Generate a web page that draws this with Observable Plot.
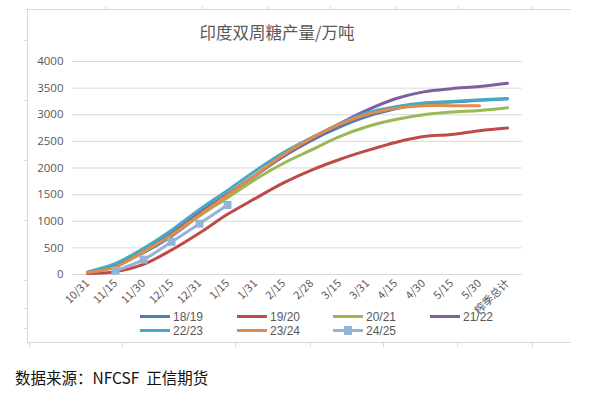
<!DOCTYPE html>
<html>
<head>
<meta charset="utf-8">
<script src="https://cdn.jsdelivr.net/npm/d3@7"></script>
<script src="https://cdn.jsdelivr.net/npm/@observablehq/plot@0.6"></script>
<style>
  html, body { margin: 0; padding: 0; background: #fff; }
  #wrap { position: relative; width: 606px; height: 393px; overflow: hidden; font-family: "Noto Sans CJK SC", "Noto Sans", sans-serif; }
  #chart { position: absolute; left: 0; top: 0; }
  .frame { position: absolute; background: #d9d9d9; }
  #title { position: absolute; left: 0; width: 554px; top: 20px; text-align: center; font-size: 16.5px; color: #595959; line-height: 24px; }
  #legend { position: absolute; left: 140px; top: 310px; font-size: 12px; color: #595959; font-family: "Liberation Sans", Arial, sans-serif; }
  .li { position: absolute; height: 14px; line-height: 14px; white-space: nowrap; }
  .sw { display: inline-block; width: 30px; height: 3px; vertical-align: middle; margin-right: 3px; position: relative; top: -1px; }
  .mk { position: absolute; left: 11px; top: -3px; width: 8px; height: 9px; }
  #caption { position: absolute; left: 15px; top: 366px; font-size: 15.5px; color: #111; line-height: 22px; }
</style>
</head>
<body>
<div id="wrap">
  <div id="chart"></div>
  <div id="title">印度双周糖产量/万吨</div>
  <div id="legend"></div>
  <div id="caption">数据来源：NFCSF&nbsp; 正信期货</div>
</div>
<script>
const categories = ["10/31","11/15","11/30","12/15","12/31","1/15","1/31","2/15","2/28","3/15","3/31","4/15","4/30","5/15","5/30","榨季总计"];
const seriesNames = ["18/19","19/20","20/21","21/22","22/23","23/24","24/25"];
const seriesColors = ["#4a7ebb","#be4b48","#98b954","#7d60a0","#46aac5","#e08d4b","#95b3d7"];

const s1819 = [40, 180, 410, 720, 1110, 1480, 1860, 2220, 2520, 2770, 2970, 3110, 3210, 3240, 3270, 3300];
const s1920 = [20, 50, 190, 460, 780, 1130, 1430, 1720, 1960, 2160, 2330, 2480, 2590, 2630, 2700, 2750];
const s2021 = [40, 150, 430, 740, 1100, 1440, 1790, 2090, 2340, 2590, 2780, 2910, 3000, 3050, 3080, 3130];
const s2122 = [40, 170, 470, 780, 1160, 1510, 1870, 2220, 2530, 2830, 3090, 3300, 3430, 3490, 3530, 3590];
const s2223 = [50, 210, 490, 830, 1220, 1580, 1950, 2290, 2570, 2830, 3040, 3150, 3220, 3250, 3280, 3300];
const s2324 = [40, 140, 430, 740, 1120, 1490, 1870, 2250, 2560, 2820, 3010, 3120, 3170, 3170, 3170, null];
const s2425 = [null, 71, 280, 612, 954, 1306, null, null, null, null, null, null, null, null, null, null];
const yTicks = [0, 500, 1000, 1500, 2000, 2500, 3000, 3500, 4000];

const allSeries = [s1819, s1920, s2021, s2122, s2223, s2324, s2425];
const rows = [];
allSeries.forEach((vals, si) => {
  vals.forEach((v, ci) => {
    if (v != null) rows.push({series: seriesNames[si], cat: categories[ci], value: v});
  });
});
const lastRows = rows.filter(d => d.series === "24/25");

const chart = Plot.plot({
  width: 606,
  height: 393,
  marginLeft: 72,
  marginRight: 84,
  marginTop: 61,
  marginBottom: 119,
  style: { fontFamily: "'Open Sans', 'Noto Sans', sans-serif", fontSize: "11px", color: "#595959", background: "transparent" },
  x: { type: "point", domain: categories, padding: 0.5, label: null },
  y: { domain: [0, 4000], label: null },
  color: { domain: seriesNames, range: seriesColors },
  marks: [
    Plot.gridY(yTicks, { stroke: "#d9d9d9", strokeOpacity: 1, strokeWidth: 1 }),
    Plot.axisY(yTicks, { tickSize: 0, tickPadding: 9, tickFormat: d => String(d), fill: "#595959", fontSize: 11.5, label: null }),
    Plot.axisX({ tickRotate: -45, tickSize: 0, tickPadding: 7, fill: "#595959", fontSize: 11, label: null, fontFamily: "'Noto Sans CJK SC', 'Open Sans', sans-serif" }),
    Plot.line(rows, { x: "cat", y: "value", z: "series", stroke: "series", strokeWidth: 3, curve: "catmull-rom" }),
    Plot.dot(lastRows, { x: "cat", y: "value", symbol: "square", r: 4.5, fill: "#95b3d7", stroke: "none" })
  ]
});
document.getElementById("chart").appendChild(chart);

// legend
const legend = document.getElementById("legend");
const legendPos = [[0,0],[97,0],[193,0],[290,0],[0,14],[97,14],[193,14]];
seriesNames.forEach((name, i) => {
  const el = document.createElement("div");
  el.className = "li";
  el.style.left = legendPos[i][0] + "px";
  el.style.top = legendPos[i][1] + "px";
  const sw = document.createElement("span");
  sw.className = "sw";
  sw.style.background = seriesColors[i];
  if (name === "24/25") {
    const mk = document.createElement("span");
    mk.className = "mk";
    mk.style.background = seriesColors[i];
    sw.appendChild(mk);
  }
  el.appendChild(sw);
  el.appendChild(document.createTextNode(name));
  legend.appendChild(el);
});

// decorative outer frame (from the embedded-chart screenshot)
const wrap = document.getElementById("wrap");
function frame(l, t, w, h) {
  const d = document.createElement("div");
  d.className = "frame";
  d.style.left = l + "px"; d.style.top = t + "px"; d.style.width = w + "px"; d.style.height = h + "px";
  wrap.appendChild(d);
}
frame(26, 9, 545, 1);
frame(27, 9, 1, 334);
frame(28, 342, 543, 1);
[105, 202, 267, 330, 395, 458, 532].forEach(x => frame(x, 6, 1, 4));
[29, 122, 235, 310, 383, 457, 532].forEach(x => frame(x, 342, 1, 5));
[40, 100, 160, 220, 280, 308, 328].forEach(y => frame(24, y, 3, 1));
</script>
</body>
</html>
